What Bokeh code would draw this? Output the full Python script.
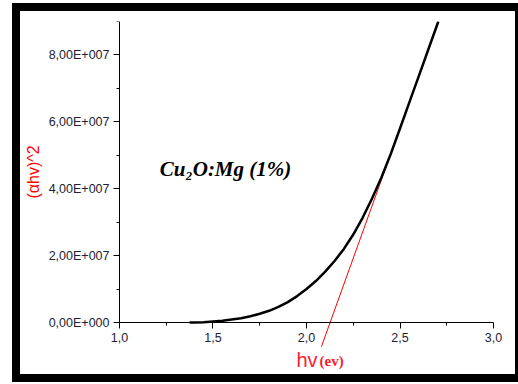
from bokeh.plotting import figure
from bokeh.models import FixedTicker, Label
from bokeh.embed import file_html
from bokeh.resources import INLINE

# Curve (hv in eV, (alpha h v)^2)
curve_x = [1.375, 1.40, 1.45, 1.50, 1.55, 1.60, 1.65, 1.70, 1.75, 1.80, 1.85, 1.90, 1.95, 2.00,
           2.05, 2.10, 2.15, 2.20, 2.25, 2.30, 2.35, 2.40, 2.45, 2.50, 2.55, 2.60, 2.65, 2.705]
curve_y = [0.0, 0.02e6, 0.1e6, 0.3e6, 0.55e6, 0.9e6, 1.3e6, 1.85e6, 2.6e6, 3.5e6, 4.65e6, 6.1e6, 7.9e6, 1.0e7,
           1.24e7, 1.52e7, 1.84e7, 2.2e7, 2.63e7, 3.13e7, 3.7e7, 4.33e7, 5.03e7, 5.8e7, 6.58e7, 7.36e7, 8.14e7, 9.0e7]

# Tangent (Tauc) line: below-axis end, top end
tangent_x = [2.08, 2.705]
tangent_y = [-7.2e6, 9.0e7]

x_ticks = [1.0, 1.5, 2.0, 2.5, 3.0]
x_tick_labels = ["1,0", "1,5", "2,0", "2,5", "3,0"]
x_minor = [1.25, 1.75, 2.25, 2.75]
y_ticks = [0, 2e7, 4e7, 6e7, 8e7]
y_tick_labels = ["0,00E+000", "2,00E+007", "4,00E+007", "6,00E+007", "8,00E+007"]
y_minor = [1e7, 3e7, 5e7, 7e7, 9e7]

p = figure(width=511, height=379, x_range=(0.4706, 3.2032), y_range=(-2.033e7, 9e7),
           output_backend="svg", toolbar_location=None,
           min_border_left=0, min_border_right=0, min_border_top=10, min_border_bottom=0,
           margin=(3, 0, 0, 12), styles={"border": "8px solid black"})
p.grid.visible = False
p.outline_line_color = None
p.background_fill_color = "white"
p.border_fill_color = "white"

p.xaxis.ticker = FixedTicker(ticks=x_ticks, minor_ticks=x_minor)
p.yaxis.ticker = FixedTicker(ticks=y_ticks, minor_ticks=y_minor)
p.xaxis.major_label_overrides = {float(k): v for k, v in zip(x_ticks, x_tick_labels)}
p.yaxis.major_label_overrides = {k: v for k, v in zip(y_ticks, y_tick_labels)}
p.xaxis.fixed_location = 0
p.xaxis.bounds = (1.0, 3.0)
p.yaxis.fixed_location = 1.0
p.yaxis.bounds = (0, 9e7)

for ax in (p.xaxis[0], p.yaxis[0]):
    ax.axis_line_color = "black"
    ax.major_tick_line_color = "black"
    ax.minor_tick_line_color = "black"
    ax.major_tick_in = 0
    ax.major_tick_out = 6
    ax.minor_tick_in = 0
    ax.minor_tick_out = 3
    ax.major_label_text_font = "Liberation Sans"
    ax.major_label_text_font_size = "12.5px"
    ax.major_label_text_color = "#222233"
    ax.major_label_standoff = 4

p.yaxis.axis_label = "(\u03b1hv)^2"
p.yaxis.axis_label_text_font = "Liberation Sans"
p.yaxis.axis_label_text_font_style = "normal"
p.yaxis.axis_label_text_font_size = "16px"
p.yaxis.axis_label_text_color = "red"
p.yaxis.axis_label_standoff = 4

# tangent line (under the curve)
p.line(tangent_x, tangent_y, line_color="red", line_width=1)
p.line(curve_x, curve_y, line_color="black", line_width=2.5, line_join="round")

p.add_layout(Label(x=1.215, y=4.6e7, text="Cu\u2082O:Mg (1%)", text_font="Liberation Serif",
                   text_font_style="bold italic", text_font_size="21px",
                   text_baseline="middle", text_color="black"))
p.add_layout(Label(x=1.946, y=-1.136e7, text="hv", text_font="Liberation Sans",
                   text_font_size="20px", text_baseline="middle", text_color="#ff1a33"))
p.add_layout(Label(x=2.07, y=-1.15e7, text="(ev)", text_font="Liberation Serif",
                   text_font_style="bold", text_font_size="15px", text_baseline="middle",
                   text_color="#ff1a33"))

open("out.html", "w").write(file_html(p, INLINE))
